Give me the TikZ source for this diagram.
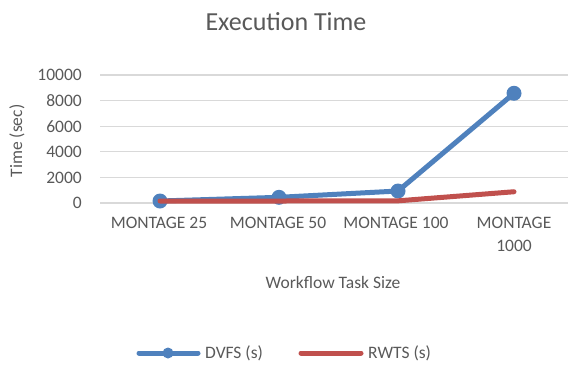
\documentclass[tikz,border=0pt]{standalone}
\usepackage{fontspec}
\setmainfont{Carlito}
\definecolor{txt}{HTML}{595959}
\definecolor{grid}{HTML}{D9D9D9}
\definecolor{dvfs}{HTML}{4F81BD}
\definecolor{rwts}{HTML}{C0504D}
\begin{document}
\begin{tikzpicture}[x=1pt,y=-1pt,
  gridline/.style={grid, line width=1.2pt},
  lbl/.style={text=txt, font=\fontsize{17.5}{21}\selectfont, inner sep=0pt},
  ticklbl/.style={lbl, anchor=east},
  catlbl/.style={lbl, align=center, anchor=north},
  series/.style={line width=5pt, line cap=round, line join=round},
  dot/.style={circle, fill=dvfs, minimum size=15pt, inner sep=0pt}]
\useasboundingbox (0,0) rectangle (569,365);
% gridlines and tick labels
\foreach \v/\lab in {0/0,2000/2000,4000/4000,6000/6000,8000/8000,10000/10000}{
  \draw[gridline] (100,{203-0.0128*\v}) -- (568,{203-0.0128*\v});
  \node[ticklbl] (t\v) at (82,{203-0.0128*\v}) {\lab};
}
% title
\node[lbl, font=\fontsize{26}{30}\selectfont] (title) at (286,22) {Execution Time};
% axis titles
\node[lbl, rotate=90] (ytitle) at (17,141) {Time (sec)};
\node[lbl] (xtitle) at (333,282) {Workflow Task Size};
% categories
\node[catlbl] (c1) at (159,217) {MONTAGE 25};
\node[catlbl] (c2) at (278,217) {MONTAGE 50};
\node[catlbl] (c3) at (396,217) {MONTAGE 100};
\node[catlbl] (c4) at (514,217) {MONTAGE\\[2pt]1000};
% data
\coordinate (d1) at (160,{203-0.0128*156});
\coordinate (d2) at (279,{203-0.0128*445});
\coordinate (d3) at (398,{203-0.0128*937});
\coordinate (d4) at (514,{203-0.0128*8570});
\coordinate (r1) at (160,{203-0.0128*156});
\coordinate (r2) at (279,{203-0.0128*156});
\coordinate (r3) at (398,{203-0.0128*170});
\coordinate (r4) at (514,{203-0.0128*880});
\draw[series, dvfs] (d1) -- (d2) -- (d3) -- (d4);
\foreach \p in {d1,d2,d3,d4}{\node[dot] at (\p) {};}
\draw[series, rwts] (r1) -- (r2) -- (r3) -- (r4);
% legend
\coordinate (la) at (139,353);
\coordinate (lb) at (198,353);
\draw[series, dvfs] (la) -- (lb);
\node[dot, minimum size=11pt] (lm) at (168,353) {};
\node[lbl, anchor=west] (ld) at (205,353) {DVFS (s)};
\coordinate (lc) at (301,353);
\coordinate (ldd) at (361,353);
\draw[series, rwts] (lc) -- (ldd);
\node[lbl, anchor=west] (lr) at (368,353) {RWTS (s)};
\end{tikzpicture}
\end{document}
